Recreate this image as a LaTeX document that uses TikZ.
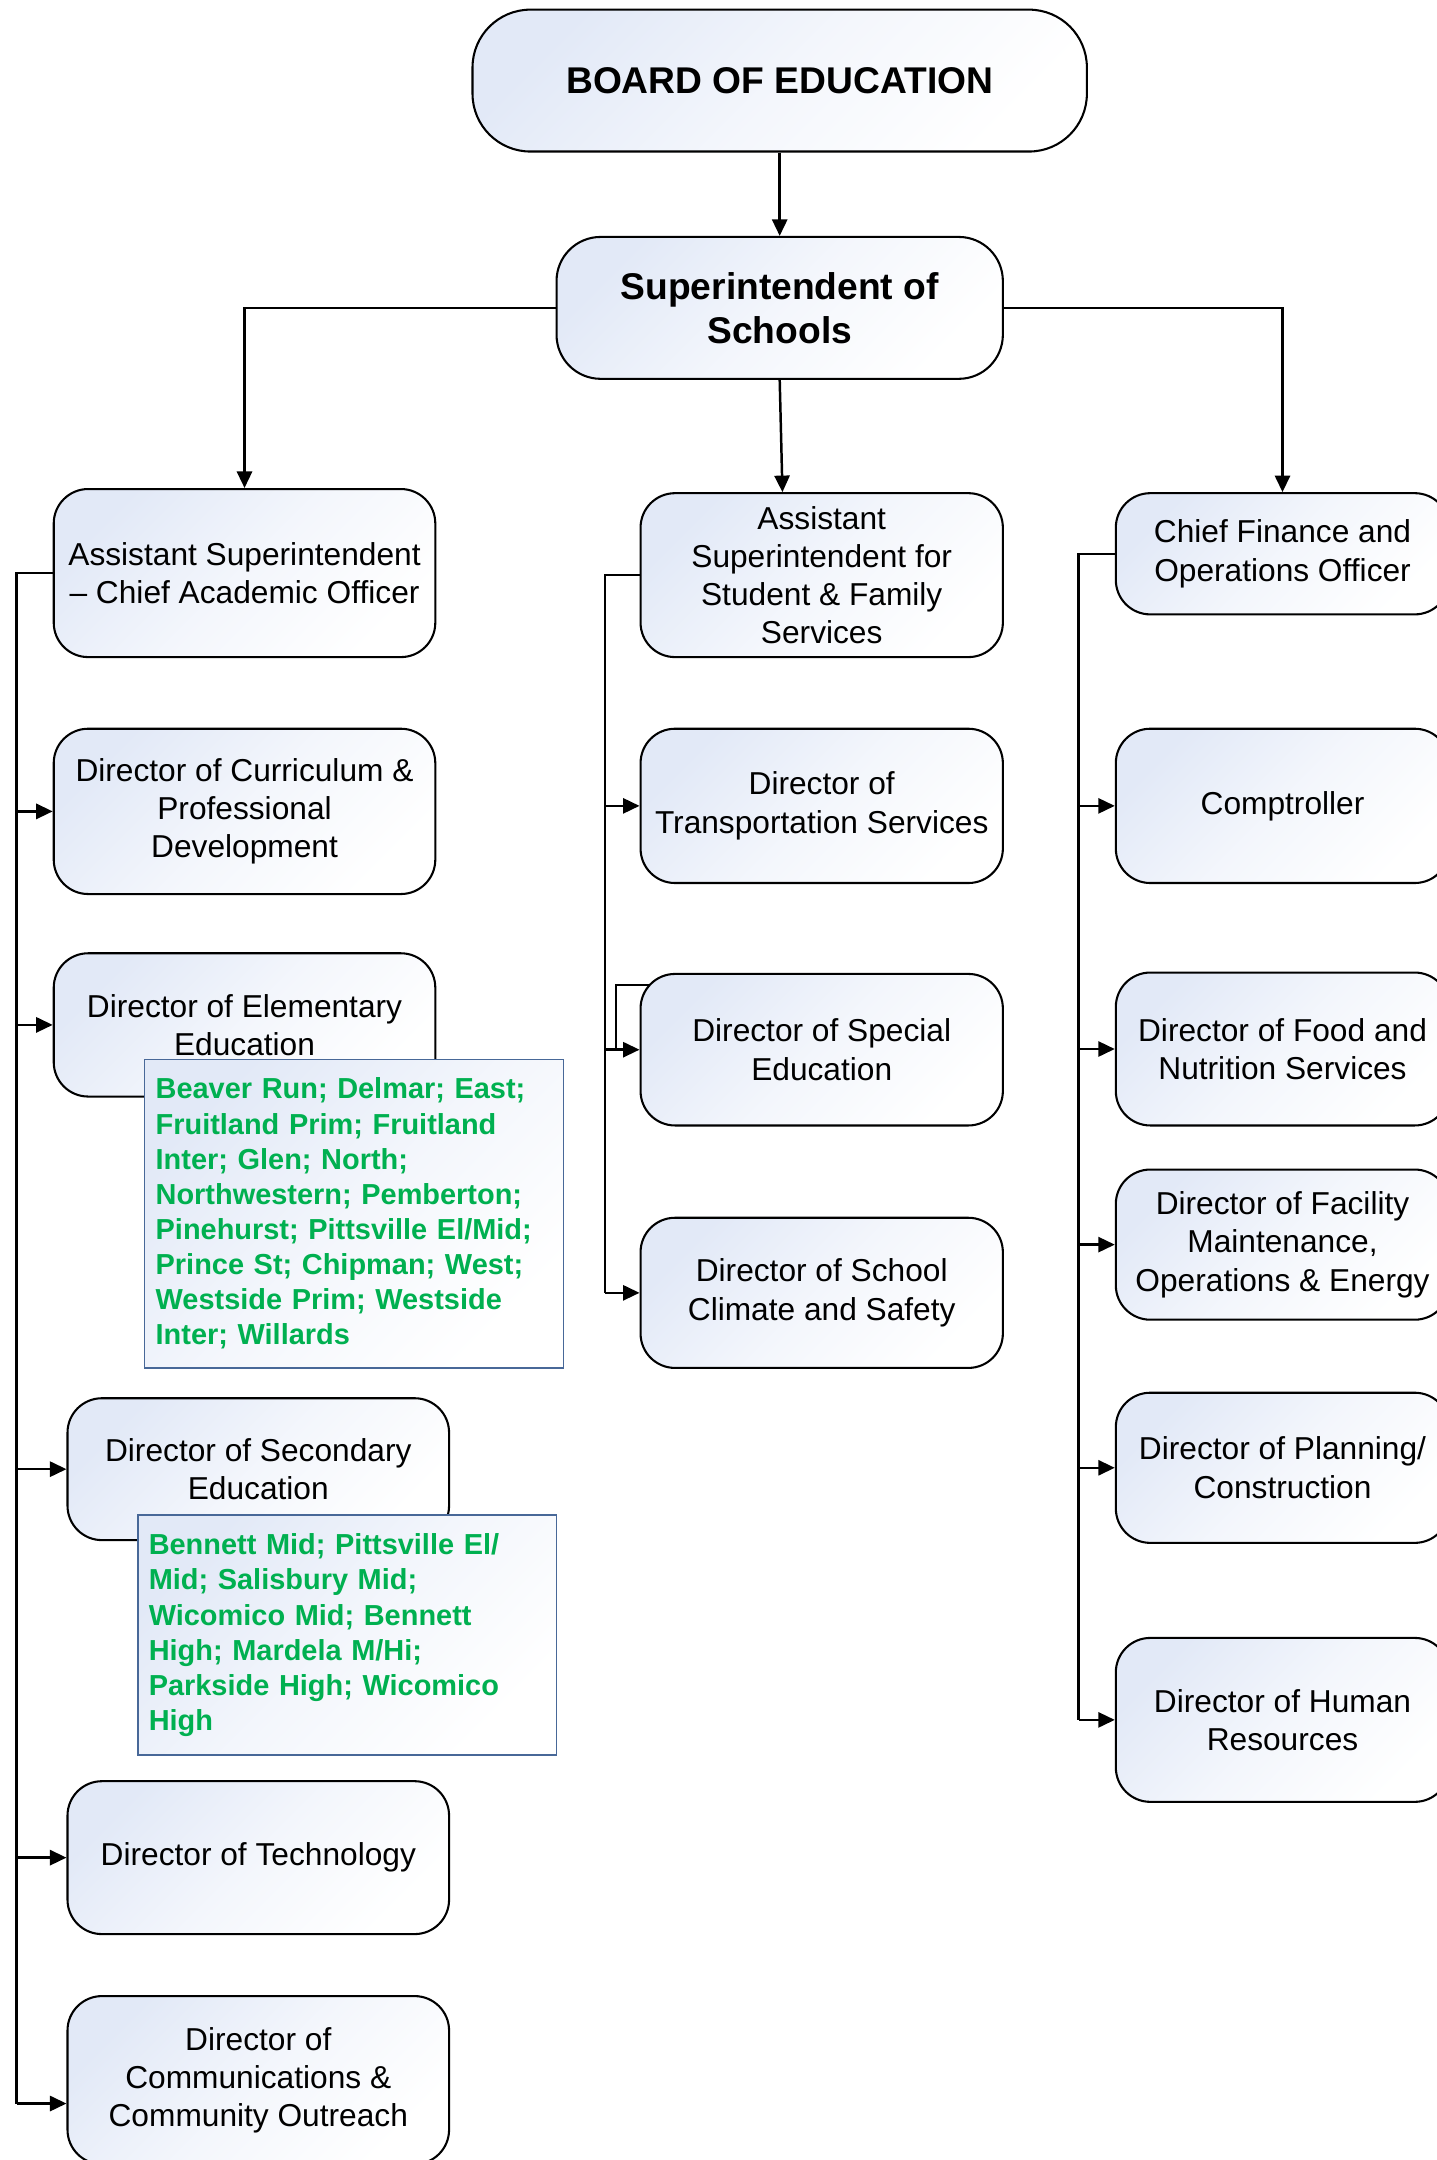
\documentclass[tikz,border=0pt]{standalone}
\usepackage{fontspec}
\setmainfont{Liberation Sans}
\usetikzlibrary{arrows.meta,backgrounds}
\definecolor{shadeblue}{RGB}{226,233,247}
\definecolor{greentext}{RGB}{0,176,80}
\definecolor{greenborder}{RGB}{72,104,152}
\tikzset{
  orgbox/.style={draw=black, line width=1.5pt, top color=shadeblue, bottom color=white,
    middle color=white!60!shadeblue, shading angle=45, rounded corners=25pt, align=center, inner sep=0pt,
    font=\fontsize{23}{27.8}\selectfont},
  topbox/.style={orgbox, font=\bfseries\fontsize{27}{32}\selectfont},
  greenbox/.style={draw=greenborder, line width=1.2pt, top color=shadeblue, bottom color=white,
    middle color=white!60!shadeblue, shading angle=45, text=greentext, font=\bfseries\fontsize{21}{25.5}\selectfont,
    align=left, inner xsep=8pt, inner ysep=0pt, text width=288pt},
  conn/.style={line width=1.8pt, draw=black},
  arr/.style={conn, -{Triangle[length=12pt,width=11pt]}}
}
\begin{document}
\begin{tikzpicture}[x=1pt,y=-1pt]
\useasboundingbox (0,0) rectangle (1043,1568);
\clip (0,0) rectangle (1043,1568);

% top
\node[topbox, rounded corners=42pt, minimum width=446pt, minimum height=103pt] (board) at (566,58.5) {BOARD OF EDUCATION};
\node[topbox, rounded corners=32pt, minimum width=324pt, minimum height=103pt] (super) at (566,223.5) {Superintendent of\\Schools};

% left column
\node[orgbox, minimum width=277pt, minimum height=122pt] (A) at (177.5,416) {Assistant Superintendent\\– Chief Academic Officer};
\node[orgbox, minimum width=277pt, minimum height=120pt] (B) at (177.5,589) {Director of Curriculum \&\\Professional\\Development};
\node[orgbox, minimum width=277pt, minimum height=104pt] (C) at (177.5,744) {Director of Elementary\\Education};
\node[orgbox, minimum width=277pt, minimum height=103pt] (D) at (187.5,1066.5) {Director of Secondary\\Education};
\node[orgbox, minimum width=277pt, minimum height=111pt] (E) at (187.5,1348.5) {Director of Technology};
\node[orgbox, minimum width=277pt, minimum height=122pt] (F) at (187.5,1510) {Director of\\Communications \&\\Community Outreach};

% green lists
\node[greenbox, minimum height=224pt] (G1) at (257,881) {Beaver Run; Delmar; East;\\Fruitland Prim; Fruitland\\Inter; Glen; North;\\Northwestern; Pemberton;\\Pinehurst; Pittsville El/Mid;\\Prince St; Chipman; West;\\Westside Prim; Westside\\Inter; Willards};
\node[greenbox, minimum height=174pt] (G2) at (252,1187) {Bennett Mid; Pittsville El/\\Mid; Salisbury Mid;\\Wicomico Mid; Bennett\\High; Mardela M/Hi;\\Parkside High; Wicomico\\High};

% middle column
\node[orgbox, minimum width=263pt, minimum height=119pt] (G) at (596.5,417.5) {Assistant\\Superintendent for\\Student \& Family\\Services};
\node[orgbox, minimum width=263pt, minimum height=112pt] (H) at (596.5,585) {Director of\\Transportation Services};
\node[orgbox, minimum width=263pt, minimum height=110pt] (I) at (596.5,762) {Director of Special\\Education};
\node[orgbox, minimum width=263pt, minimum height=109pt] (J) at (596.5,938.5) {Director of School\\Climate and Safety};

% right column
\node[orgbox, minimum width=242pt, minimum height=88pt] (K) at (931,402) {Chief Finance and\\Operations Officer};
\node[orgbox, minimum width=242pt, minimum height=112pt] (L) at (931,585) {Comptroller};
\node[orgbox, minimum width=242pt, minimum height=111pt] (M) at (931,761.5) {Director of Food and\\Nutrition Services};
\node[orgbox, minimum width=242pt, minimum height=109pt] (N) at (931,903.5) {Director of Facility\\Maintenance,\\Operations \& Energy};
\node[orgbox, minimum width=242pt, minimum height=109pt] (O) at (931,1065.5) {Director of Planning/\\Construction};
\node[orgbox, minimum width=242pt, minimum height=119pt] (P) at (931,1248.5) {Director of Human\\Resources};

\coordinate (lbus) at (12,0);
\coordinate (mbus) at (439,0);
\coordinate (rbus) at (783,0);
\coordinate (gx) at (568,0);
\coordinate (fy) at (0,1527);
\coordinate (k1) at (447,762);
\coordinate (k2) at (447,715);
\coordinate (k3) at (500,715);

\begin{scope}[on background layer]
% top connectors
\draw[arr] (board) -- (super);
\draw[arr] (super.west) -| (A.north);
\draw[arr] (super.east) -| (K.north);
\draw[arr] (super.south) -- (G.north -| gx);
% left bus
\draw[conn] (A.west) -- (A.west -| lbus) -- (fy -| lbus);
\draw[arr] (B.west -| lbus) -- (B.west);
\draw[arr] (C.west -| lbus) -- (C.west);
\draw[arr] (D.west -| lbus) -- (D.west);
\draw[arr] (E.west -| lbus) -- (E.west);
\draw[arr] (fy -| lbus) -- (fy -| F.west);
% middle bus
\draw[conn] (G.west) -- (G.west -| mbus) -- (J.west -| mbus);
\draw[arr] (H.west -| mbus) -- (H.west);
\draw[arr] (I.west -| mbus) -- (I.west);
\draw[arr] (J.west -| mbus) -- (J.west);
\draw[conn] (k1) -- (k2) -- (k3);
% right bus
\draw[conn] (K.west) -- (K.west -| rbus) -- (P.west -| rbus);
\draw[arr] (L.west -| rbus) -- (L.west);
\draw[arr] (M.west -| rbus) -- (M.west);
\draw[arr] (N.west -| rbus) -- (N.west);
\draw[arr] (O.west -| rbus) -- (O.west);
\draw[arr] (P.west -| rbus) -- (P.west);
\end{scope}
\end{tikzpicture}
\end{document}
